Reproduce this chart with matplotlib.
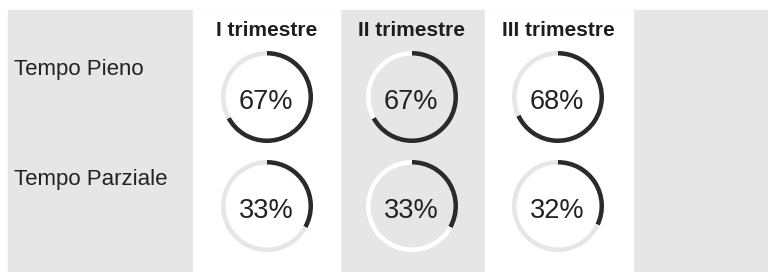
import matplotlib
matplotlib.use('Agg')
import matplotlib.pyplot as plt
from matplotlib.patches import Rectangle

plt.rcParams['font.family'] = ['Liberation Sans', 'DejaVu Sans']

# data
quarters = ['I trimestre', 'II trimestre', 'III trimestre']
row_labels = ['Tempo Pieno', 'Tempo Parziale']
full_time = [67, 67, 68]
part_time = [33, 33, 32]

W, H = 768, 272
DARK = '#2a2a2a'
GREY_BG = '#e6e6e6'

col_x = [267, 412, 558]
row_y = [97, 206]
radius = 46
ring = 4.5


def py(y):
    # pixel row (top down) -> data y (bottom up)
    return H - y


fig = plt.figure(figsize=(W / 100, H / 100), dpi=100)
ax = fig.add_axes([0, 0, 1, 1])

# grey sheet with white columns 1 and 3
ax.add_patch(Rectangle((8, 0), W - 8, H - 10, color=GREY_BG, zorder=0))
for x0, x1 in [(193, 340), (485, 633)]:
    ax.add_patch(Rectangle((x0, 0), x1 - x0, H - 10, color='white', zorder=0))

for i, q in enumerate(quarters):
    ax.text(col_x[i], py(30), q, ha='center', va='center', fontsize=15,
            fontweight='bold', color='#1e1e1e')
    track = GREY_BG if i != 1 else 'white'
    for j, vals in enumerate([full_time, part_time]):
        v = vals[i]
        ax.pie([v, 100 - v], center=(col_x[i], py(row_y[j])), radius=radius,
               startangle=90, counterclock=False, colors=[DARK, track],
               wedgeprops=dict(width=ring, linewidth=0), frame=True)
        ax.text(col_x[i] - 1, py(row_y[j] + 5), f'{v}%', ha='center', va='center',
                fontsize=19.5, color='#222222')

for j, lab in enumerate(row_labels):
    ax.text(14, py([69, 179][j]), lab, ha='left', va='center', fontsize=16,
            color='#222222')

ax.set_xlim(0, W)
ax.set_ylim(0, H)
ax.set_aspect('equal')
ax.axis('off')

fig.savefig('out.png', dpi=100, facecolor='white')
